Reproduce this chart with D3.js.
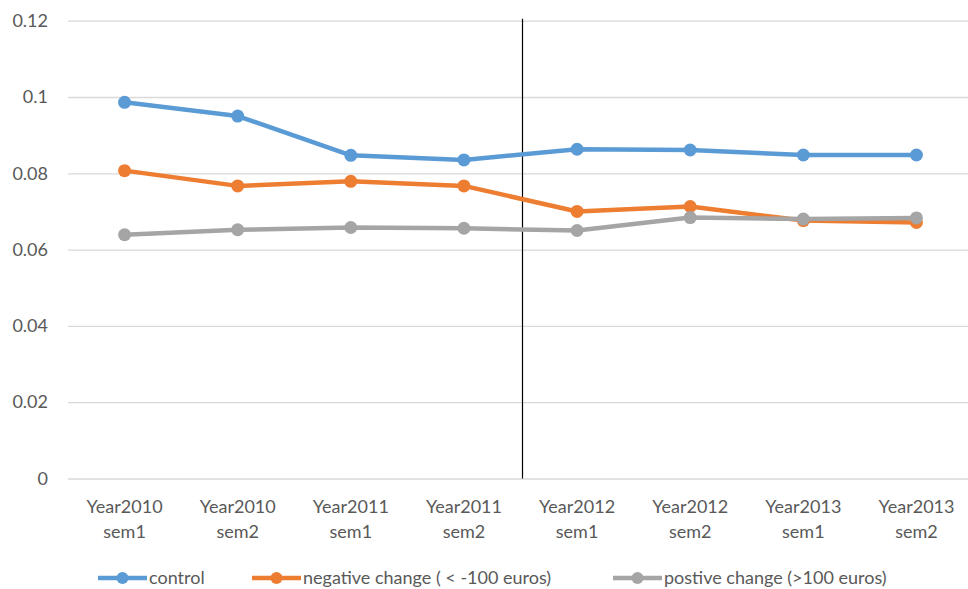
<!DOCTYPE html>
<html>
<head>
<meta charset="utf-8">
<script src="https://cdn.jsdelivr.net/npm/d3@7"></script>
<style>
  body { margin: 0; background: #fff; }
  text { font-family: Lato, "Open Sans", sans-serif; fill: #595959; }
</style>
</head>
<body>
<div id="chart"></div>
<script>
var svgWidth = 968;
var svgHeight = 589;

// data
var periods = [
  ["Year2010", "sem1"], ["Year2010", "sem2"],
  ["Year2011", "sem1"], ["Year2011", "sem2"],
  ["Year2012", "sem1"], ["Year2012", "sem2"],
  ["Year2013", "sem1"], ["Year2013", "sem2"]
];
var control  = [0.0986, 0.0950, 0.0847, 0.0835, 0.0863, 0.0861, 0.0848, 0.0848];
var negative = [0.0807, 0.0767, 0.0779, 0.0767, 0.0700, 0.0713, 0.0676, 0.0671];
var positive = [0.0639, 0.0652, 0.0658, 0.0656, 0.0650, 0.0684, 0.0680, 0.0683];
var seriesNames = ["control", "negative change ( < -100 euros)", "postive change (>100 euros)"];
var yTicks = [0, 0.02, 0.04, 0.06, 0.08, 0.1, 0.12];

var colors = ["#5b9bd5", "#ed7d31", "#a5a5a5"];
var series = [control, negative, positive].map(function(vals, i) {
  return { name: seriesNames[i], color: colors[i], values: vals };
});

var margin = { top: 20.7, right: -5, bottom: 110, left: 68 };
var width = svgWidth - margin.left - margin.right;
var height = 478.5 - margin.top;

var svg = d3.select("#chart")
  .append("svg")
  .attr("width", svgWidth)
  .attr("height", svgHeight);

var chartGroup = svg.append("g")
  .attr("transform", `translate(${margin.left}, ${margin.top})`);

var xScale = d3.scaleBand()
  .domain(d3.range(periods.length))
  .range([0, width]);

var yScale = d3.scaleLinear()
  .domain([0, 0.12])
  .range([height, 0]);

// gridlines + y labels
var leftAxis = d3.axisLeft(yScale)
  .tickValues(yTicks)
  .tickSize(-width)
  .tickPadding(20)
  .tickFormat(d => d3.format("")(+d.toFixed(2)));

var yAxisG = chartGroup.append("g").call(leftAxis);
yAxisG.select(".domain").remove();
yAxisG.selectAll("line").attr("stroke", "#d9d9d9").attr("stroke-width", 1.3);
yAxisG.selectAll("text").attr("font-size", 18).style("fill", "#595959");

// x labels (two lines)
var xLab = chartGroup.append("g")
  .selectAll("text")
  .data(periods)
  .enter()
  .append("text")
  .attr("text-anchor", "middle")
  .attr("font-size", 18)
  .attr("transform", (d, i) => `translate(${xScale(i) + xScale.bandwidth() / 2}, ${height + 34.5})`);
xLab.append("tspan").attr("x", 0).attr("y", 0).text(d => d[0]);
xLab.append("tspan").attr("x", 0).attr("y", 25).text(d => d[1]);

// vertical separator between 2011 and 2012
var sepX = xScale(4) + 2;
chartGroup.append("line")
  .attr("x1", sepX).attr("x2", sepX)
  .attr("y1", -2).attr("y2", height)
  .attr("stroke", "#000")
  .attr("stroke-width", 1.2);

var line = d3.line()
  .x((d, i) => xScale(i) + xScale.bandwidth() / 2)
  .y(d => yScale(d));

series.forEach(function(s) {
  chartGroup.append("path")
    .datum(s.values)
    .attr("fill", "none")
    .attr("stroke", s.color)
    .attr("stroke-width", 4.5)
    .attr("stroke-linejoin", "round")
    .attr("d", line);
  chartGroup.selectAll(null)
    .data(s.values)
    .enter()
    .append("circle")
    .attr("cx", (d, i) => xScale(i) + xScale.bandwidth() / 2)
    .attr("cy", d => yScale(d))
    .attr("r", 6.5)
    .attr("fill", s.color);
});

// legend
var legendX = [98, 252, 613];
var legend = svg.append("g")
  .selectAll("g")
  .data(series)
  .enter()
  .append("g")
  .attr("transform", (d, i) => `translate(${legendX[i]}, 578)`);
legend.append("line")
  .attr("x1", 0).attr("x2", 49)
  .attr("stroke", d => d.color)
  .attr("stroke-width", 4.5);
legend.append("circle")
  .attr("cx", 24.5).attr("r", 6)
  .attr("fill", d => d.color);
legend.append("text")
  .attr("x", 51)
  .attr("y", 6)
  .attr("font-size", 18)
  .text(d => d.name);
</script>
</body>
</html>
